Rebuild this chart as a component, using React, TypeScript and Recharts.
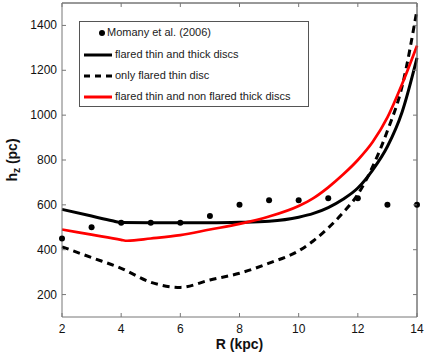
import React from 'react';
import { ComposedChart, Line, Scatter, XAxis, YAxis, ReferenceLine } from 'recharts';

// Momany et al. (2006) observations
const OBS_R = [2, 3, 4, 5, 6, 7, 8, 9, 10, 11, 12, 13, 14];
const OBS_HZ = [450, 500, 520, 520, 520, 550, 600, 620, 620, 630, 630, 600, 600];

// flared thin and thick discs
const THICK_R = [2, 3, 3.7, 4, 5, 6, 7, 8, 9, 10, 10.5, 11, 11.5, 12, 12.5, 13, 13.5, 14];
const THICK_HZ = [580, 550, 529, 521, 520, 520, 520, 522, 527, 545, 562, 588, 625, 675, 755, 860, 1015, 1255];

// only flared thin disc
const THIN_R = [2, 3, 4, 5, 6, 7, 8, 9, 10, 10.5, 11, 11.5, 12, 12.5, 13, 13.5, 14];
const THIN_HZ = [413, 365, 317, 255, 232, 265, 295, 340, 395, 440, 497, 565, 647, 770, 930, 1130, 1470];

// flared thin and non flared thick discs
const MIX_R = [2, 3, 4, 4.2, 5, 6, 7, 8, 9, 10, 10.5, 11, 11.5, 12, 12.5, 13, 13.5, 14];
const MIX_HZ = [490, 467, 444, 440, 450, 465, 490, 515, 548, 595, 630, 678, 735, 800, 880, 990, 1140, 1310];

const X_DOMAIN = [2, 14];
const Y_DOMAIN = [100, 1500];
const X_TICKS = [2, 4, 6, 8, 10, 12, 14];
const Y_TICKS = [200, 400, 600, 800, 1000, 1200, 1400];

const LEGEND_LABELS = [
  'Momany et al. (2006)',
  'flared thin and thick discs',
  'only flared thin disc',
  'flared thin and non flared thick discs',
];

const toPoints = (rs: number[], hs: number[]) => rs.map((r, i) => ({ r, hz: hs[i] }));

const AXIS = '#777';
const FONT = '"Liberation Sans", Arial, Helvetica, sans-serif';

const BottomTick = ({ x, y, payload }: any) => (
  <g>
    <line x1={x} x2={x} y1={y} y2={y - 4} stroke={AXIS} />
    <text x={x} y={y + 16} textAnchor="middle" fontSize={12} fontFamily={FONT} fill="#111">
      {payload.value}
    </text>
  </g>
);

const TopTick = ({ x, y }: any) => <line x1={x} x2={x} y1={y} y2={y + 4} stroke={AXIS} />;

const LeftTick = ({ x, y, payload }: any) => (
  <g>
    <line x1={x} x2={x + 4} y1={y} y2={y} stroke={AXIS} />
    <text x={x - 5} y={y + 4} textAnchor="end" fontSize={12} fontFamily={FONT} fill="#111">
      {payload.value}
    </text>
  </g>
);

const RightTick = ({ x, y }: any) => <line x1={x} x2={x - 4} y1={y} y2={y} stroke={AXIS} />;

const YLabel = ({ viewBox }: any) => {
  const cx = viewBox.x + 17;
  const cy = viewBox.y + viewBox.height / 2;
  return (
    <text
      x={cx}
      y={cy}
      transform={`rotate(-90, ${cx}, ${cy})`}
      textAnchor="middle"
      fontSize={14}
      fontWeight="bold"
      fontFamily={FONT}
      fill="#111"
    >
      h<tspan fontSize={10} dy={3}>z</tspan>
      <tspan dy={-3}> (pc)</tspan>
    </text>
  );
};

const Dot = (props: any) => <circle cx={props.cx} cy={props.cy} r={3} fill="#000" />;

const LegendBox = () => {
  const rows = [
    <circle cx={16} cy={6} r={3} fill="#000" />,
    <line x1={0} x2={28} y1={6} y2={6} stroke="#000" strokeWidth={3} />,
    <line x1={0} x2={28} y1={6} y2={6} stroke="#000" strokeWidth={3} strokeDasharray="6 5" />,
    <line x1={0} x2={28} y1={6} y2={6} stroke="#f00" strokeWidth={3} />,
  ];
  const tops = [27, 49, 70, 91];
  return (
    <div
      style={{
        position: 'absolute',
        left: 79,
        top: 21,
        width: 228,
        height: 84,
        border: '1px solid #555',
        background: '#fff',
        fontFamily: FONT,
        fontSize: 11,
        color: '#222',
      }}
    >
      {LEGEND_LABELS.map((label, i) => (
        <div key={label} style={{ position: 'absolute', left: 4, top: tops[i] - 21 - 1, height: 12, whiteSpace: 'nowrap' }}>
          <svg width={28} height={12} style={{ position: 'absolute', left: i === 0 ? 2 : 0, top: 0 }}>
            {rows[i]}
          </svg>
          <span style={{ position: 'absolute', left: i === 0 ? 23 : 31, top: -1, lineHeight: '13px' }}>{label}</span>
        </div>
      ))}
    </div>
  );
};

export default function App() {
  return (
    <div style={{ position: 'absolute', left: 0, top: 0, width: 436, height: 355, background: '#fff' }}>
      <ComposedChart width={436} height={355} margin={{ top: 2, right: 18, bottom: 0, left: 0 }}>
        <XAxis
          dataKey="r"
          type="number"
          domain={X_DOMAIN}
          ticks={X_TICKS}
          height={38}
          stroke={AXIS}
          tickLine={false}
          tickSize={0}
          tickMargin={0}
          tick={<BottomTick />}
          label={{ value: 'R (kpc)', position: 'insideBottom', offset: 6, fontSize: 14, fontWeight: 'bold', fontFamily: FONT, fill: '#111' }}
        />
        <XAxis
          xAxisId="top"
          orientation="top"
          dataKey="r"
          type="number"
          domain={X_DOMAIN}
          ticks={X_TICKS}
          height={1}
          stroke={AXIS}
          tickLine={false}
          tickSize={0}
          tickMargin={0}
          tick={<TopTick />}
        />
        <YAxis
          type="number"
          domain={Y_DOMAIN}
          ticks={Y_TICKS}
          width={62}
          stroke={AXIS}
          tickLine={false}
          tickSize={0}
          tickMargin={0}
          tick={<LeftTick />}
          label={{ content: <YLabel /> }}
        />
        <YAxis
          yAxisId="right"
          orientation="right"
          type="number"
          domain={Y_DOMAIN}
          ticks={Y_TICKS}
          width={1}
          stroke={AXIS}
          tickLine={false}
          tickSize={0}
          tickMargin={0}
          tick={<RightTick />}
        />
        {/* box edges */}
        <ReferenceLine y={Y_DOMAIN[1]} stroke={AXIS} strokeWidth={1} />
        <ReferenceLine x={X_DOMAIN[1]} stroke={AXIS} strokeWidth={1} />
        <Line
          data={toPoints(THICK_R, THICK_HZ)}
          dataKey="hz"
          type="monotone"
          stroke="#000"
          strokeWidth={3}
          dot={false}
          isAnimationActive={false}
        />
        <Line
          data={toPoints(THIN_R, THIN_HZ)}
          dataKey="hz"
          type="monotone"
          stroke="#000"
          strokeWidth={3}
          strokeDasharray="7 5"
          dot={false}
          isAnimationActive={false}
        />
        <Line
          data={toPoints(MIX_R, MIX_HZ)}
          dataKey="hz"
          type="monotone"
          stroke="#f00"
          strokeWidth={2.7}
          dot={false}
          isAnimationActive={false}
        />
        <Scatter
          xAxisId="top"
          yAxisId="right"
          data={toPoints(OBS_R, OBS_HZ)}
          dataKey="hz"
          shape={<Dot />}
          isAnimationActive={false}
        />
      </ComposedChart>
      <LegendBox />
    </div>
  );
}
